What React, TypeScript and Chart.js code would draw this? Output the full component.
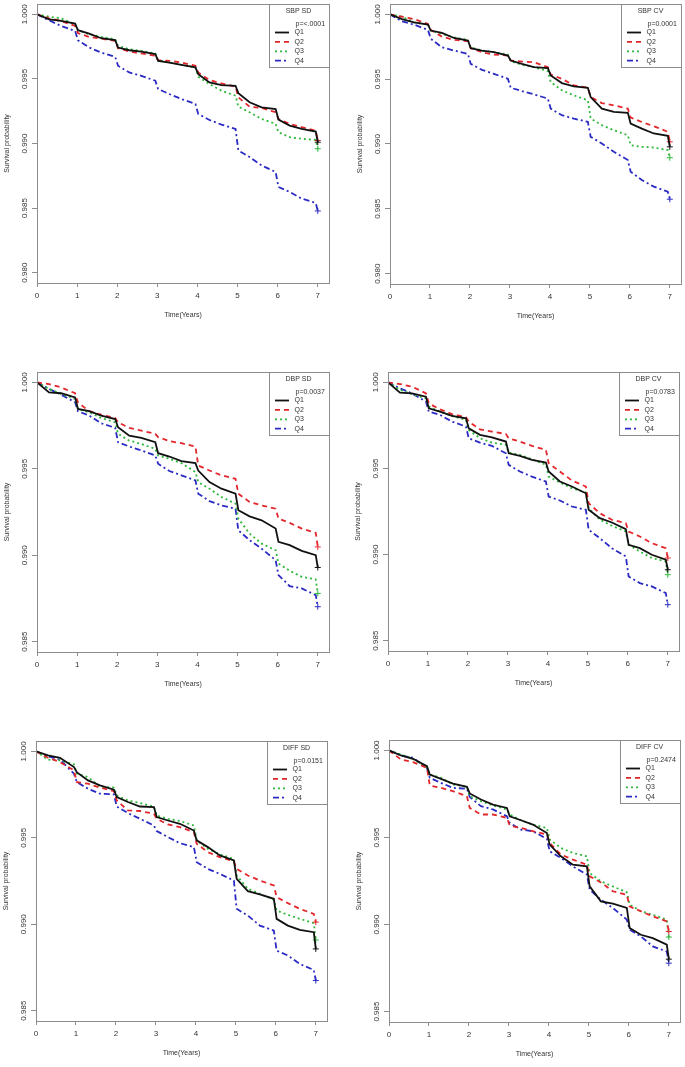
import React, { useEffect, useRef } from "react";
import { Chart, registerables } from "chart.js";
Chart.register(...registerables);

// ---------- data ----------
const TIMES = [0, 0.3, 0.6, 0.95, 1.02, 1.3, 1.6, 1.95, 2.02, 2.3, 2.6, 2.95, 3.02, 3.3, 3.6, 3.95, 4.02, 4.3, 4.6, 4.95, 5.02, 5.3, 5.6, 5.95, 6.02, 6.3, 6.6, 6.95, 7.0];

const SBPSD_Q1 = [1, 0.99961, 0.99949, 0.99928, 0.99877, 0.99851, 0.99815, 0.998, 0.99743, 0.99722, 0.99712, 0.99692, 0.9964, 0.99627, 0.99609, 0.99589, 0.99537, 0.99473, 0.99452, 0.99447, 0.9939, 0.99319, 0.9928, 0.99267, 0.99185, 0.99139, 0.99113, 0.99092, 0.9901];
const SBPSD_Q2 = [1, 0.99969, 0.99949, 0.9991, 0.99855, 0.99825, 0.99812, 0.99794, 0.99738, 0.99712, 0.99697, 0.99679, 0.99645, 0.9964, 0.99627, 0.99602, 0.9955, 0.99491, 0.99465, 0.9944, 0.99357, 0.99285, 0.99275, 0.99242, 0.9919, 0.99152, 0.99126, 0.991, 0.99023];
const SBPSD_Q3 = [1, 0.99982, 0.99969, 0.99923, 0.99877, 0.99846, 0.99825, 0.99807, 0.99756, 0.9973, 0.99717, 0.99697, 0.99645, 0.99627, 0.99609, 0.99589, 0.99517, 0.9946, 0.99409, 0.9937, 0.99285, 0.99242, 0.9919, 0.99152, 0.99087, 0.99049, 0.99036, 0.99028, 0.98959];
const SBPSD_Q4 = [1, 0.99954, 0.9991, 0.99871, 0.998, 0.99743, 0.99704, 0.99671, 0.99602, 0.9955, 0.99524, 0.99486, 0.99422, 0.99383, 0.99344, 0.99306, 0.99229, 0.99182, 0.99146, 0.99113, 0.98946, 0.98895, 0.9883, 0.98779, 0.98663, 0.98625, 0.98573, 0.9854, 0.98478];

const SBPCV_Q1 = [1, 0.99964, 0.99939, 0.99921, 0.99875, 0.99857, 0.99818, 0.99798, 0.99739, 0.99721, 0.99708, 0.99682, 0.99644, 0.99618, 0.99593, 0.99585, 0.99529, 0.9947, 0.99444, 0.99434, 0.99362, 0.99273, 0.99247, 0.9924, 0.99158, 0.99119, 0.99081, 0.99063, 0.98978];
const SBPCV_Q2 = [1, 0.99982, 0.99964, 0.99926, 0.9988, 0.99828, 0.99803, 0.99793, 0.99739, 0.99708, 0.9969, 0.99682, 0.99644, 0.99636, 0.99631, 0.99593, 0.99536, 0.99503, 0.99452, 0.99434, 0.99362, 0.99316, 0.99298, 0.99273, 0.99204, 0.9917, 0.99137, 0.99094, 0.99017];
const SBPCV_Q3 = [1, 0.99982, 0.99939, 0.99921, 0.99875, 0.99849, 0.99823, 0.99803, 0.99746, 0.99721, 0.99708, 0.9969, 0.99639, 0.99611, 0.99593, 0.99562, 0.99478, 0.99414, 0.99375, 0.99337, 0.99196, 0.99145, 0.99106, 0.99068, 0.98991, 0.98978, 0.98973, 0.98953, 0.98894];
const SBPCV_Q4 = [1, 0.99946, 0.99921, 0.9988, 0.99811, 0.99746, 0.99721, 0.99695, 0.99618, 0.99572, 0.99541, 0.99503, 0.99434, 0.99408, 0.99383, 0.9935, 0.99273, 0.99222, 0.99196, 0.99171, 0.99055, 0.99004, 0.9894, 0.98876, 0.98786, 0.98722, 0.98671, 0.98632, 0.98574];

const DBPSD_Q1 = [1, 0.99942, 0.99937, 0.99913, 0.99846, 0.99833, 0.99808, 0.99788, 0.9974, 0.99692, 0.99679, 0.99654, 0.9959, 0.99571, 0.99544, 0.99533, 0.9949, 0.99423, 0.99385, 0.99356, 0.9926, 0.99225, 0.99202, 0.99154, 0.99077, 0.99058, 0.99025, 0.99, 0.98929];
const DBPSD_Q2 = [1, 0.9999, 0.99971, 0.99937, 0.99885, 0.99833, 0.99813, 0.99794, 0.99769, 0.99737, 0.99721, 0.99702, 0.99683, 0.9966, 0.99648, 0.99629, 0.99519, 0.9949, 0.99462, 0.99442, 0.99356, 0.99308, 0.99288, 0.99269, 0.99212, 0.99187, 0.99154, 0.99129, 0.99048];
const DBPSD_Q3 = [1, 0.99962, 0.99933, 0.99904, 0.99846, 0.99827, 0.99794, 0.99769, 0.99702, 0.99663, 0.99644, 0.99615, 0.99577, 0.99558, 0.99533, 0.99481, 0.99423, 0.99385, 0.99337, 0.99298, 0.99212, 0.99125, 0.99067, 0.99029, 0.98952, 0.9891, 0.98875, 0.9886, 0.98779];
const DBPSD_Q4 = [1, 0.99962, 0.99929, 0.99885, 0.99833, 0.99808, 0.99763, 0.99737, 0.99654, 0.99629, 0.99606, 0.99577, 0.99529, 0.99487, 0.99462, 0.99433, 0.99356, 0.99313, 0.99288, 0.99269, 0.99144, 0.99087, 0.99038, 0.98971, 0.98885, 0.98821, 0.98808, 0.98769, 0.98702];

const DBPCV_Q1 = [1, 0.9994, 0.99936, 0.99917, 0.99849, 0.9983, 0.99805, 0.99791, 0.99733, 0.99695, 0.99681, 0.99656, 0.99588, 0.99573, 0.9955, 0.99534, 0.99482, 0.99424, 0.99395, 0.99356, 0.9926, 0.99211, 0.99186, 0.99148, 0.99057, 0.99037, 0.98999, 0.9897, 0.98912];
const DBPCV_Q2 = [1, 0.9999, 0.99975, 0.99936, 0.99878, 0.99843, 0.99816, 0.99797, 0.99772, 0.99727, 0.99714, 0.997, 0.99675, 0.99656, 0.99631, 0.99608, 0.9953, 0.99482, 0.9943, 0.99395, 0.99298, 0.9924, 0.99202, 0.99182, 0.99134, 0.99105, 0.99066, 0.99037, 0.9898];
const DBPCV_Q3 = [1, 0.99956, 0.99932, 0.99907, 0.99859, 0.9983, 0.99805, 0.99782, 0.99724, 0.99675, 0.9965, 0.99637, 0.99592, 0.99579, 0.99554, 0.99521, 0.99453, 0.99418, 0.99385, 0.9936, 0.99269, 0.99202, 0.99167, 0.99134, 0.99057, 0.99018, 0.9898, 0.9896, 0.98883];
const DBPCV_Q4 = [1, 0.99965, 0.99936, 0.99888, 0.9983, 0.99811, 0.99772, 0.99743, 0.99675, 0.9965, 0.99631, 0.99588, 0.99521, 0.99482, 0.99453, 0.99424, 0.99337, 0.99314, 0.99279, 0.9926, 0.99144, 0.99095, 0.99037, 0.98989, 0.98873, 0.98834, 0.98815, 0.98776, 0.98709];

const DIFFSD_Q1 = [1, 0.99977, 0.99963, 0.99909, 0.9988, 0.99832, 0.99803, 0.99778, 0.99736, 0.99707, 0.99681, 0.99678, 0.9962, 0.996, 0.99581, 0.99542, 0.99485, 0.99446, 0.99398, 0.99369, 0.99263, 0.99191, 0.99172, 0.99147, 0.99031, 0.98992, 0.98967, 0.98954, 0.98857];
const DIFFSD_Q2 = [1, 0.99963, 0.99938, 0.9989, 0.99822, 0.99813, 0.9979, 0.9977, 0.99716, 0.99658, 0.99655, 0.99639, 0.9961, 0.99577, 0.99562, 0.99533, 0.99465, 0.99417, 0.99388, 0.99365, 0.9932, 0.99282, 0.99253, 0.99224, 0.99156, 0.99122, 0.99089, 0.9906, 0.99012];
const DIFFSD_Q3 = [1, 0.99952, 0.99948, 0.99925, 0.99871, 0.99851, 0.99797, 0.9979, 0.99745, 0.99716, 0.99701, 0.99681, 0.99629, 0.9961, 0.99597, 0.99571, 0.99485, 0.99436, 0.99404, 0.99378, 0.99282, 0.99205, 0.99176, 0.99141, 0.99079, 0.99054, 0.99031, 0.99006, 0.98909];
const DIFFSD_Q4 = [1, 0.99971, 0.99952, 0.99871, 0.99822, 0.99784, 0.99755, 0.99751, 0.99681, 0.99643, 0.9961, 0.99571, 0.99539, 0.99504, 0.99469, 0.99446, 0.99359, 0.9932, 0.99291, 0.99253, 0.99089, 0.9905, 0.98992, 0.98963, 0.98847, 0.98819, 0.9877, 0.98735, 0.98674];

const DIFFCV_Q1 = [1, 0.99971, 0.99952, 0.9991, 0.99862, 0.99837, 0.9981, 0.99791, 0.99753, 0.99718, 0.99689, 0.9967, 0.99622, 0.99599, 0.99574, 0.99526, 0.99459, 0.99392, 0.99344, 0.99334, 0.99219, 0.99133, 0.9912, 0.99095, 0.9898, 0.98941, 0.98922, 0.98884, 0.98801];
const DIFFCV_Q2 = [1, 0.99948, 0.99933, 0.999, 0.99799, 0.99785, 0.99766, 0.99737, 0.9967, 0.99632, 0.99632, 0.99613, 0.99568, 0.99555, 0.99536, 0.99517, 0.99469, 0.99402, 0.99373, 0.99344, 0.99277, 0.99242, 0.99191, 0.99171, 0.99104, 0.99076, 0.99047, 0.99018, 0.9896];
const DIFFCV_Q3 = [1, 0.99977, 0.99952, 0.999, 0.99862, 0.99843, 0.99804, 0.99791, 0.99737, 0.99708, 0.99684, 0.99661, 0.99632, 0.99599, 0.99574, 0.99555, 0.99488, 0.9944, 0.99411, 0.99392, 0.99296, 0.99248, 0.99219, 0.99185, 0.99114, 0.99076, 0.99056, 0.99028, 0.98928];
const DIFFCV_Q4 = [1, 0.99971, 0.99958, 0.999, 0.99843, 0.99814, 0.99785, 0.9978, 0.99733, 0.9968, 0.99661, 0.99622, 0.99584, 0.99545, 0.99536, 0.99492, 0.99421, 0.99382, 0.99334, 0.99287, 0.992, 0.99143, 0.99095, 0.99028, 0.9897, 0.98932, 0.98874, 0.98845, 0.98778];

const SERIES_LABELS = ["Q1", "Q2", "Q3", "Q4"];
const PANEL_TITLES = ["SBP SD", "SBP CV", "DBP SD", "DBP CV", "DIFF SD", "DIFF CV"];
const P_VALUES = ["p=<.0001", "p=0.0001", "p=0.0037", "p=0.0783", "p=0.0151", "p=0.2474"];
const X_TICKS = [0, 1, 2, 3, 4, 5, 6, 7];
const Y_TICKS_WIDE = [0.98, 0.985, 0.99, 0.995, 1.0];
const Y_TICKS_NARROW = [0.985, 0.99, 0.995, 1.0];
const X_TITLE = "Time(Years)";
const Y_TITLE = "Survival probability";

const PANEL_SERIES = [
  [SBPSD_Q1, SBPSD_Q2, SBPSD_Q3, SBPSD_Q4],
  [SBPCV_Q1, SBPCV_Q2, SBPCV_Q3, SBPCV_Q4],
  [DBPSD_Q1, DBPSD_Q2, DBPSD_Q3, DBPSD_Q4],
  [DBPCV_Q1, DBPCV_Q2, DBPCV_Q3, DBPCV_Q4],
  [DIFFSD_Q1, DIFFSD_Q2, DIFFSD_Q3, DIFFSD_Q4],
  [DIFFCV_Q1, DIFFCV_Q2, DIFFCV_Q3, DIFFCV_Q4],
];
const PANEL_YTICKS = [Y_TICKS_WIDE, Y_TICKS_WIDE, Y_TICKS_NARROW, Y_TICKS_NARROW, Y_TICKS_NARROW, Y_TICKS_NARROW];

// ---------- layout / style ----------
const GEOM = [
  { cx: 0, cy: 0, cw: 340, ch: 340, L: 37, T: 3, R: 329, B: 283, yMin: 0.9792, yMax: 1.0008 },
  { cx: 340, cy: 0, cw: 345, ch: 340, L: 390, T: 3, R: 682, B: 284, yMin: 0.9792, yMax: 1.0008 },
  { cx: 0, cy: 340, cw: 340, ch: 360, L: 37, T: 372, R: 329, B: 652, yMin: 0.9844, yMax: 1.0006 },
  { cx: 340, cy: 340, cw: 345, ch: 360, L: 388, T: 372, R: 679, B: 651, yMin: 0.9844, yMax: 1.0006 },
  { cx: 0, cy: 700, cw: 340, ch: 367, L: 36, T: 741, R: 327, B: 1021, yMin: 0.9844, yMax: 1.0006 },
  { cx: 340, cy: 700, cw: 345, ch: 367, L: 389, T: 740, R: 680, B: 1022, yMin: 0.9844, yMax: 1.0006 },
];
const X_MIN = 0;
const X_MAX = 7.28;
const FONT = '"Liberation Sans", Arial, sans-serif';
const BOX_COLOR = "#8c8c8c";
const TEXT_COLOR = "#333333";
const LINE_STYLES = [
  { color: "#111111", dash: [] as number[], width: 1.8 },
  { color: "#e3262b", dash: [5, 4], width: 1.8 },
  { color: "#2fb83a", dash: [2, 3], width: 1.8 },
  { color: "#2b2bc4", dash: [6, 3, 2, 3], width: 1.8 },
];

function makeDecor(idx: number) {
  return {
    id: "panelDecor" + idx,
    afterDraw(chart: any) {
      const { ctx, chartArea: a, scales } = chart;
      ctx.save();
      // plot box
      ctx.strokeStyle = BOX_COLOR;
      ctx.lineWidth = 1;
      ctx.setLineDash([]);
      ctx.strokeRect(a.left + 0.5, a.top + 0.5, a.right - a.left, a.bottom - a.top);
      // rotated y tick labels
      const ys = scales.y;
      ctx.fillStyle = TEXT_COLOR;
      ctx.font = "8px " + FONT;
      ctx.textAlign = "center";
      ctx.textBaseline = "middle";
      for (const t of ys.ticks) {
        const py = ys.getPixelForValue(t.value);
        ctx.save();
        ctx.translate(a.left - 12, py);
        ctx.rotate(-Math.PI / 2);
        ctx.fillText(Number(t.value).toFixed(3), 0, 0);
        ctx.restore();
      }
      // legend
      const bw = 60, bh = 63;
      const bx = a.right - bw, by = a.top;
      ctx.fillStyle = "#ffffff";
      ctx.fillRect(bx, by, bw, bh);
      ctx.strokeStyle = BOX_COLOR;
      ctx.strokeRect(bx + 0.5, by + 0.5, bw, bh);
      ctx.fillStyle = TEXT_COLOR;
      ctx.font = "7px " + FONT;
      ctx.textAlign = "center";
      ctx.fillText(PANEL_TITLES[idx], bx + 29.5, by + 7.5);
      ctx.textAlign = "left";
      ctx.fillText(P_VALUES[idx], bx + 26.5, by + 20);
      chart.data.datasets.forEach((ds: any, i: number) => {
        const y = by + 28.5 + i * 9.4;
        ctx.save();
        ctx.strokeStyle = ds.borderColor;
        ctx.lineWidth = ds.borderWidth;
        ctx.setLineDash(ds.borderDash || []);
        ctx.beginPath();
        ctx.moveTo(bx + 6, y);
        ctx.lineTo(bx + 20, y);
        ctx.stroke();
        ctx.restore();
        ctx.fillStyle = TEXT_COLOR;
        ctx.fillText(ds.label, bx + 25.5, y);
      });
      ctx.restore();
    },
  };
}

function Panel({ idx }: { idx: number }) {
  const ref = useRef<HTMLCanvasElement>(null);
  const g = GEOM[idx];
  useEffect(() => {
    if (!ref.current) return;
    const datasets = PANEL_SERIES[idx].map((vals, i) => {
      const st = LINE_STYLES[i];
      return {
        label: SERIES_LABELS[i],
        data: TIMES.map((t, k) => ({ x: t, y: vals[k] })),
        borderColor: st.color,
        backgroundColor: st.color,
        borderWidth: st.width,
        borderDash: st.dash,
        pointStyle: "cross",
        pointRadius: (c: any) => (c.dataIndex === TIMES.length - 1 ? 3 : 0),
        pointBorderColor: st.color,
        pointBorderWidth: 1,
        pointHoverRadius: 0,
        tension: 0,
        fill: false,
      };
    });
    const yTicks = PANEL_YTICKS[idx];
    const lhHalf = 7 * 1.2 / 2;
    const chart = new Chart(ref.current, {
      type: "line",
      data: { datasets } as any,
      plugins: [makeDecor(idx)],
      options: {
        animation: false,
        responsive: false,
        events: [],
        layout: {
          padding: { top: g.T - g.cy, right: g.cx + g.cw - g.R, left: 0, bottom: 0 },
        },
        plugins: { legend: { display: false }, tooltip: { enabled: false } },
        scales: {
          x: {
            type: "linear",
            min: X_MIN,
            max: X_MAX,
            afterBuildTicks: (s: any) => {
              s.ticks = X_TICKS.map((v) => ({ value: v }));
            },
            afterFit: (s: any) => {
              s.height = g.cy + g.ch - g.B;
            },
            border: { display: false },
            grid: { display: true, drawOnChartArea: false, drawTicks: true, tickLength: 4, color: BOX_COLOR },
            ticks: { color: TEXT_COLOR, font: { family: FONT, size: 8 }, padding: 4, maxRotation: 0, autoSkip: false, callback: (v: any) => String(v) },
            title: {
              display: true,
              text: X_TITLE,
              color: TEXT_COLOR,
              font: { family: FONT, size: 7 },
              padding: { top: 0, bottom: g.cy + g.ch - (g.B + 32) - lhHalf },
            },
          },
          y: {
            type: "linear",
            min: g.yMin,
            max: g.yMax,
            afterBuildTicks: (s: any) => {
              s.ticks = yTicks.map((v) => ({ value: v }));
            },
            afterFit: (s: any) => {
              s.width = g.L - g.cx;
            },
            border: { display: false },
            grid: { display: true, drawOnChartArea: false, drawTicks: true, tickLength: 5, color: BOX_COLOR },
            ticks: { display: false },
            title: {
              display: true,
              text: Y_TITLE,
              color: TEXT_COLOR,
              font: { family: FONT, size: 7 },
              padding: { top: g.L - 30 - g.cx - lhHalf, bottom: 0 },
            },
          },
        },
      } as any,
    });
    return () => chart.destroy();
  }, [idx]);
  return (
    <canvas
      ref={ref}
      width={g.cw}
      height={g.ch}
      style={{ position: "absolute", left: g.cx, top: g.cy, width: g.cw, height: g.ch }}
    />
  );
}

export default function App() {
  return (
    <div style={{ position: "absolute", left: 0, top: 0, width: 685, height: 1067, background: "#ffffff" }}>
      {GEOM.map((_, i) => (
        <Panel key={i} idx={i} />
      ))}
    </div>
  );
}
